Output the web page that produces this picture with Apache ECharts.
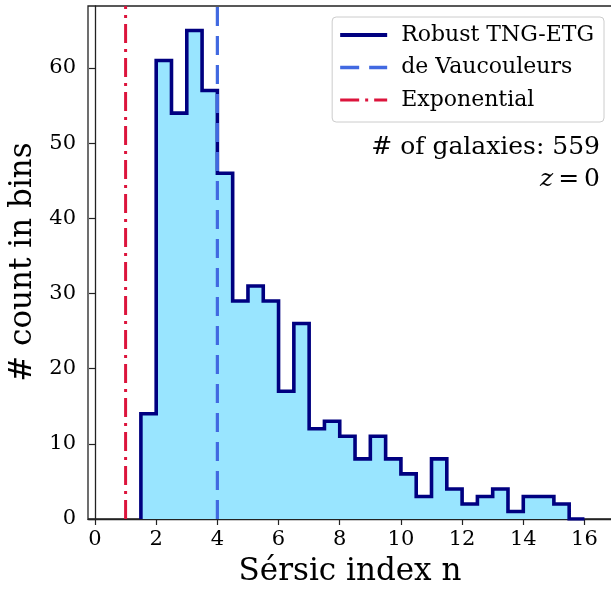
<!DOCTYPE html>
<html>
<head>
<meta charset="utf-8">
<script src="https://cdn.jsdelivr.net/npm/echarts@6/dist/echarts.min.js"></script>
<style>
  html, body { margin: 0; padding: 0; background: #fff; }
  #chart { width: 611px; height: 589px; }
</style>
</head>
<body>
<div id="chart"></div>
<script>
// Histogram of Sérsic indices (bin width 0.5, starting at n = 1.5)
const binStart = 1.5;
const binWidth = 0.5;
const counts = [14, 61, 54, 65, 57, 46, 29, 31, 29, 17, 26, 12, 13, 11, 8, 11, 8, 6, 3, 8, 4, 2, 3, 4, 1, 3, 3, 2, 0];

// Reference profiles
const exponentialN = 1;
const deVaucouleursN = 4;

// Axis ticks
const xTicks = [0, 2, 4, 6, 8, 10, 12, 14, 16];
const yTicks = [0, 10, 20, 30, 40, 50, 60];

const seriesNames = ['Robust TNG-ETG', 'de Vaucouleurs', 'Exponential'];
const xTitle = 'Sérsic index n';
const yTitle = '# count in bins';
const galaxyCount = 559;

// Step outline: start at the baseline, one point per bin left edge, close at the last right edge
const stepData = [[binStart, 0]];
counts.forEach((c, i) => stepData.push([binStart + i * binWidth, c]));
stepData.push([binStart + counts.length * binWidth, 0]);

const xMin = -0.229, xMax = 16.9;
const yMax = 68.25;
const FONT = 'DejaVu Serif';
const TICK_FONT = '21px "DejaVu Serif"';

const chart = echarts.init(document.getElementById('chart'), null, { renderer: 'canvas' });

const textGraphics = [
  {
    type: 'text', x: 350, y: 572, z: 10,
    style: { text: xTitle, font: '31px "DejaVu Serif"', fill: '#000', align: 'center', verticalAlign: 'middle' }
  },
  {
    type: 'text', x: 23, y: 262, rotation: Math.PI / 2, z: 10,
    style: { text: yTitle, font: '31px "DejaVu Serif"', fill: '#000', align: 'center', verticalAlign: 'middle' }
  },
  {
    type: 'text', right: 11, top: 135, z: 10,
    style: { text: '# of galaxies: ' + galaxyCount, font: '25px "DejaVu Serif"', fill: '#000' }
  },
  {
    type: 'text', right: 11, top: 167, z: 10,
    style: {
      text: '{z|z}{e|=}{o|0}',
      rich: {
        z: { fontFamily: FONT, fontStyle: 'italic', fontSize: 25, fill: '#000', padding: [0, 5, 0, 0] },
        e: { fontFamily: FONT, fontSize: 25, fill: '#000', padding: [0, 5, 0, 0] },
        o: { fontFamily: FONT, fontSize: 25, fill: '#000' }
      }
    }
  }
];

chart.setOption({
  animation: false,
  backgroundColor: '#ffffff',
  grid: {
    left: 88, top: 6, right: -1, bottom: 70,
    outerBoundsMode: 'none',
    show: true, borderColor: '#222', borderWidth: 1.3, backgroundColor: 'transparent'
  },
  xAxis: {
    type: 'value',
    min: xMin, max: xMax,
    axisLine: { show: true, onZero: false, lineStyle: { color: '#222', width: 1.3 } },
    axisTick: { show: true, customValues: xTicks, length: 6, lineStyle: { color: '#222', width: 1.2 } },
    axisLabel: { show: false },
    splitLine: { show: false }
  },
  yAxis: {
    type: 'value',
    min: 0, max: yMax,
    axisLine: { show: true, lineStyle: { color: '#222', width: 1.3 } },
    axisTick: { show: true, customValues: yTicks, length: 6, lineStyle: { color: '#222', width: 1.2 } },
    axisLabel: { show: false },
    splitLine: { show: false }
  },
  legend: {
    orient: 'vertical',
    right: 7, top: 17,
    padding: [7, 10, 11, 6],
    itemWidth: 47, itemHeight: 14, itemGap: 10.5,
    backgroundColor: 'rgba(255,255,255,0.85)',
    borderColor: '#cccccc', borderWidth: 1, borderRadius: 4,
    textStyle: { fontFamily: FONT, fontSize: 22, color: '#000', lineHeight: 22, padding: [0, 0, 0, 9] },
    itemStyle: { opacity: 0 },
    data: [
      { name: seriesNames[0], lineStyle: { width: 4 } },
      { name: seriesNames[1], lineStyle: { width: 3.5 } },
      { name: seriesNames[2], lineStyle: { width: 3 } }
    ]
  },
  graphic: textGraphics,
  series: [
    {
      name: seriesNames[0],
      type: 'line',
      step: 'end',
      data: stepData,
      symbol: 'none',
      z: 2,
      lineStyle: { color: '#000080', width: 3.6, join: 'miter' },
      itemStyle: { color: '#000080' },
      areaStyle: { color: '#99e5ff', opacity: 1, origin: 'start' }
    },
    {
      name: seriesNames[1],
      type: 'line',
      data: [[deVaucouleursN, 0], [deVaucouleursN, yMax]],
      symbol: 'none',
      z: 4,
      lineStyle: { color: '#4169e1', width: 3.2, type: [19, 10], cap: 'butt' },
      itemStyle: { color: '#4169e1' }
    },
    {
      name: seriesNames[2],
      type: 'line',
      data: [[exponentialN, 0], [exponentialN, yMax]],
      symbol: 'none',
      z: 4,
      lineStyle: { color: '#dc143c', width: 3, type: [19, 6, 3, 6], cap: 'butt' },
      itemStyle: { color: '#dc143c' }
    }
  ]
});

// Tick labels placed at the axis scale positions of each tick value
const origin = chart.convertToPixel({ gridIndex: 0 }, [xMin, 0]);
const tickLabels = [];
xTicks.forEach(v => {
  const p = chart.convertToPixel({ gridIndex: 0 }, [v, 0]);
  tickLabels.push({
    type: 'text', x: p[0], y: origin[1] + 10, z: 10,
    style: { text: String(v), font: TICK_FONT, fill: '#000', align: 'center', verticalAlign: 'top' }
  });
});
yTicks.forEach(v => {
  const p = chart.convertToPixel({ gridIndex: 0 }, [xMin, v]);
  tickLabels.push({
    type: 'text', x: origin[0] - 12, y: p[1], z: 10,
    style: { text: String(v), font: TICK_FONT, fill: '#000', align: 'right', verticalAlign: 'middle' }
  });
});
chart.setOption({ graphic: textGraphics.concat(tickLabels) });
</script>
</body>
</html>
